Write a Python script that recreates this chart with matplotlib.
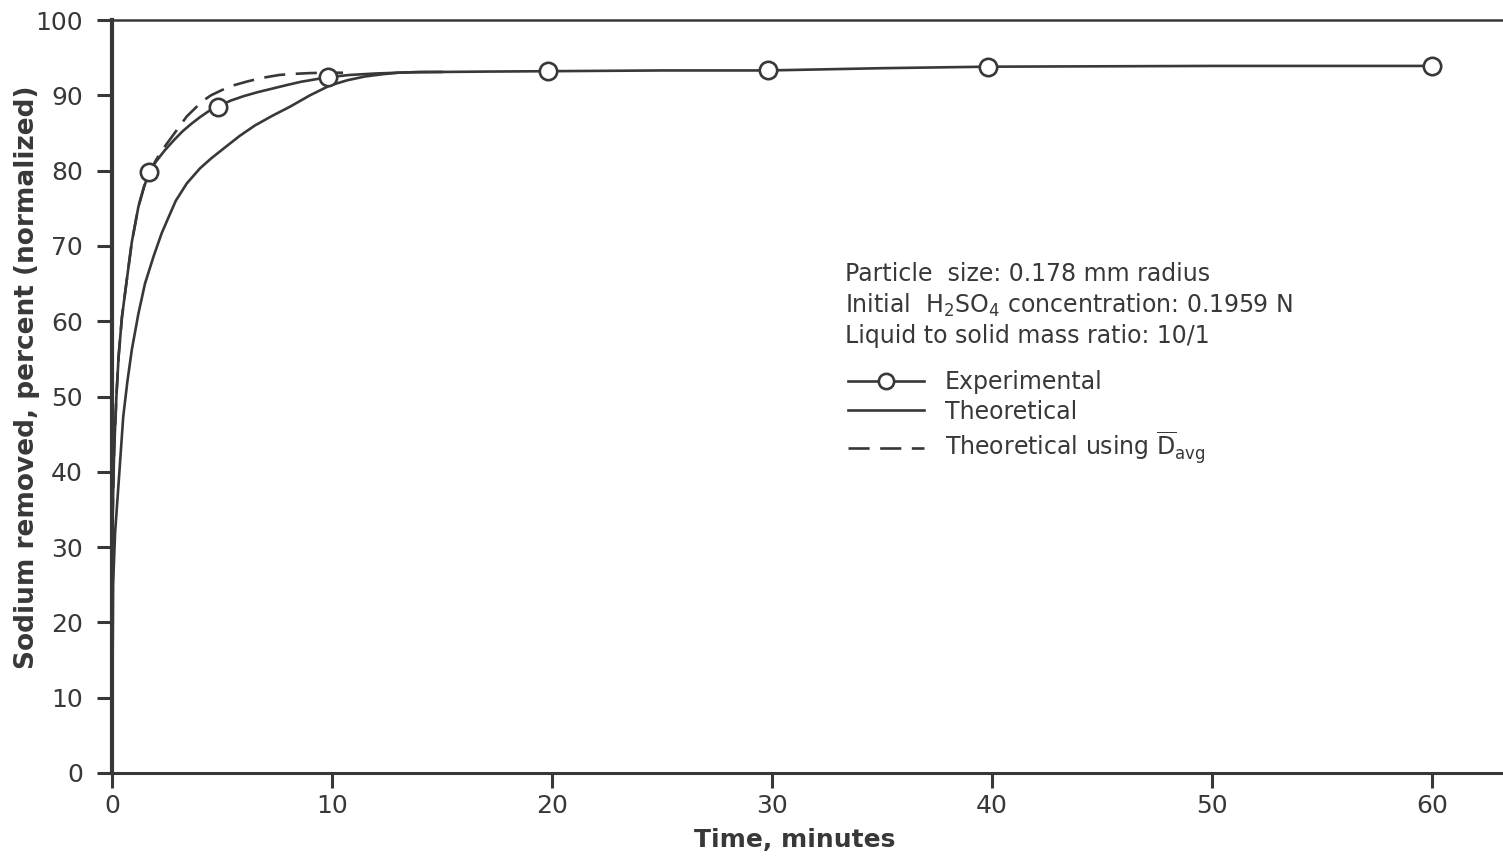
import matplotlib
matplotlib.use('Agg')
import matplotlib.pyplot as plt
from matplotlib.lines import Line2D

# values (time in minutes, percent removed)
exp_t = [1.7, 4.8, 9.8, 19.8, 29.8, 39.8, 60.0]
exp_y = [79.8, 88.5, 92.4, 93.2, 93.3, 93.8, 93.9]

# hand drawn curve through the experimental points
exp_curve_t = [0, 0.0, 0.05, 0.1, 0.2, 0.3, 0.45, 0.65, 0.9, 1.2, 1.45, 1.7, 2.0, 2.4, 2.8,
               3.2, 3.6, 4.0, 4.4, 4.8, 5.4, 6.0, 6.6, 7.3, 8.0, 8.6, 9.2, 9.8, 10.8, 12,
               13.5, 15, 17, 19.8, 25, 29.8, 35, 39.8, 50, 60]
exp_curve_y = [0, 30, 37, 43, 50, 55.3, 60.5, 65, 70.5, 75.2, 77.8, 79.8, 81.2, 82.7, 84.0,
               85.2, 86.2, 87.1, 87.9, 88.5, 89.3, 89.9, 90.4, 90.9, 91.4, 91.8, 92.1, 92.4, 92.7, 92.9,
               93.05, 93.1, 93.15, 93.2, 93.3, 93.3, 93.6, 93.8, 93.9, 93.9]

theo_t = [0, 0.05, 0.14, 0.3, 0.51, 0.7, 0.9, 1.2, 1.5, 1.9, 2.26, 2.6, 2.9, 3.4, 4.0,
          4.5, 5.06, 5.8, 6.5, 7.3, 8.1, 9.0, 9.9, 10.7, 11.5, 12.3, 13, 14, 15]
theo_y = [0, 25, 31.9, 38.5, 47.3, 52, 56.2, 61, 65, 68.7, 71.7, 74, 76, 78.3, 80.3,
          81.6, 82.9, 84.6, 86.0, 87.3, 88.5, 90.0, 91.3, 92.0, 92.5, 92.8, 93.0, 93.1, 93.1]

davg_t = [0, 0.0, 0.05, 0.1, 0.2, 0.3, 0.45, 0.65, 0.9, 1.2, 1.45, 1.7, 2.0, 2.3, 2.8,
          3.4, 4.1, 4.5, 5.0, 5.5, 6.1, 6.8, 7.6, 8.3, 9.0, 9.7, 10.5]
davg_y = [0, 30, 37, 43, 50, 55.3, 60.5, 65, 70.5, 75.2, 77.8, 79.8, 81.4, 82.8, 84.8,
          87.2, 89.2, 90.0, 90.7, 91.3, 91.8, 92.3, 92.7, 92.85, 92.95, 93.0, 93.0]

x_ticks = [0, 10, 20, 30, 40, 50, 60]
y_ticks = [0, 10, 20, 30, 40, 50, 60, 70, 80, 90, 100]

ink = '#383838'
plt.rcParams['font.family'] = ['DejaVu Sans']
plt.rcParams['mathtext.fontset'] = 'dejavusans'

fig = plt.figure(figsize=(15.03, 8.58), dpi=100)
ax = fig.add_axes([112 / 1503, 85 / 858, 1 - 112 / 1503, 753 / 858])

ax.plot(exp_curve_t, exp_curve_y, color=ink, lw=1.9, zorder=3)
ax.plot(theo_t, theo_y, color=ink, lw=1.9, zorder=3)
ax.plot(davg_t, davg_y, color=ink, lw=1.9, dashes=(8, 4), zorder=3)
ax.plot(exp_t, exp_y, linestyle='none', marker='o', ms=12.5, mfc='white',
        mec=ink, mew=1.9, zorder=4)

ax.set_xlim(0, (1503 - 112) / 22.0)
ax.set_ylim(0, 100)
ax.set_xticks(x_ticks)
ax.set_yticks(y_ticks)
ax.tick_params(axis='both', direction='out', length=11, width=2.2, color=ink,
               labelcolor=ink, labelsize=18)
ax.tick_params(axis='x', pad=4)
ax.tick_params(axis='y', pad=10)

ax.spines['right'].set_visible(False)
ax.spines['left'].set_linewidth(3)
ax.spines['bottom'].set_linewidth(2.2)
ax.spines['top'].set_linewidth(1.8)
for s in ['left', 'bottom', 'top']:
    ax.spines[s].set_color(ink)

ax.set_xlabel('Time, minutes', fontsize=18, fontweight='bold', color=ink)
ax.set_ylabel('Sodium removed, percent (normalized)', fontsize=19, fontweight='bold',
              color=ink)
ax.xaxis.set_label_coords(0.491, -0.073)
ax.yaxis.set_label_coords(-0.052, 0.526)

ax.text(0.527, 0.678,
        'Particle  size: 0.178 mm radius\n'
        'Initial  H$_2$SO$_4$ concentration: 0.1959 N\n'
        'Liquid to solid mass ratio: 10/1',
        transform=ax.transAxes, fontsize=17, color=ink, va='top', ha='left',
        linespacing=1.25)

handles = [
    Line2D([], [], color=ink, lw=1.9, marker='o', ms=11, mfc='white', mec=ink, mew=1.9),
    Line2D([], [], color=ink, lw=1.9),
    Line2D([], [], color=ink, lw=1.9, dashes=(8, 4)),
]
labels = ['Experimental', 'Theoretical', r'Theoretical using $\overline{\mathrm{D}}_{\mathrm{avg}}$']
leg = ax.legend(handles, labels, loc='upper left', bbox_to_anchor=(0.5223, 0.548),
                frameon=False, fontsize=17, handlelength=3.2, handletextpad=0.9,
                labelspacing=0.25, borderaxespad=0)
for t in leg.get_texts():
    t.set_color(ink)

fig.savefig('out.png', dpi=100, facecolor='white')
